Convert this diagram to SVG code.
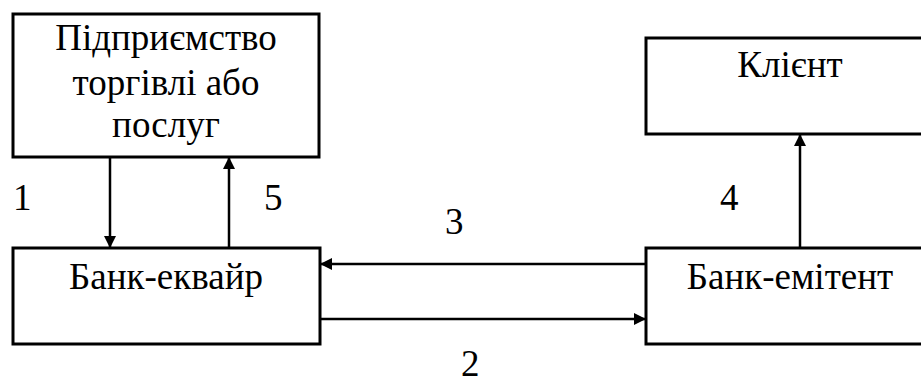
<svg xmlns="http://www.w3.org/2000/svg" width="921" height="379" viewBox="0 0 921 379">
<defs>
  <marker id="ah" viewBox="0 0 10 10" refX="10" refY="5" markerWidth="13" markerHeight="12" markerUnits="userSpaceOnUse" orient="auto">
    <path d="M0,0 L10,5 L0,10 Z" fill="#000"/>
  </marker>
</defs>
<rect width="921" height="379" fill="#fff"/>
<g id="pidpryiemstvo">
  <rect x="13" y="14" width="306" height="143" fill="#fff" stroke="#000" stroke-width="3"/>
  <text style="font-family:'Times New Roman','Liberation Serif',serif;font-size:37px" text-anchor="middle" x="166" y="50">Підприємство</text>
  <text style="font-family:'Times New Roman','Liberation Serif',serif;font-size:37px" text-anchor="middle" x="166" y="95">торгівлі або</text>
  <text style="font-family:'Times New Roman','Liberation Serif',serif;font-size:37px" text-anchor="middle" x="166" y="137">послуг</text>
</g>
<g id="klient">
  <rect x="646" y="38" width="290" height="96" fill="#fff" stroke="#000" stroke-width="3"/>
  <text style="font-family:'Times New Roman','Liberation Serif',serif;font-size:37px" text-anchor="middle" x="790" y="77">Клієнт</text>
</g>
<g id="bank-ekvair">
  <rect x="13" y="248" width="307" height="96" fill="#fff" stroke="#000" stroke-width="3"/>
  <text style="font-family:'Times New Roman','Liberation Serif',serif;font-size:37px" text-anchor="middle" x="166" y="289">Банк-еквайр</text>
</g>
<g id="bank-emitent">
  <rect x="646" y="248" width="290" height="96" fill="#fff" stroke="#000" stroke-width="3"/>
  <text style="font-family:'Times New Roman','Liberation Serif',serif;font-size:37px" text-anchor="middle" x="790" y="289">Банк-емітент</text>
</g>
<g id="connectors" stroke="#000" stroke-width="2.5" fill="none">
  <line x1="110" y1="157" x2="110" y2="248" marker-end="url(#ah)"/>
  <line x1="229" y1="248" x2="229" y2="157" marker-end="url(#ah)"/>
  <line x1="800" y1="248" x2="800" y2="134" marker-end="url(#ah)"/>
  <line x1="646" y1="264" x2="320" y2="264" marker-end="url(#ah)"/>
  <line x1="320" y1="319" x2="646" y2="319" marker-end="url(#ah)"/>
</g>
<g id="labels">
  <text style="font-family:'Times New Roman','Liberation Serif',serif;font-size:37px" x="13" y="210">1</text>
  <text style="font-family:'Times New Roman','Liberation Serif',serif;font-size:37px" x="264" y="210">5</text>
  <text style="font-family:'Times New Roman','Liberation Serif',serif;font-size:37px" x="445" y="234">3</text>
  <text style="font-family:'Times New Roman','Liberation Serif',serif;font-size:37px" x="720" y="210">4</text>
  <text style="font-family:'Times New Roman','Liberation Serif',serif;font-size:37px" x="461" y="376">2</text>
</g>
</svg>
